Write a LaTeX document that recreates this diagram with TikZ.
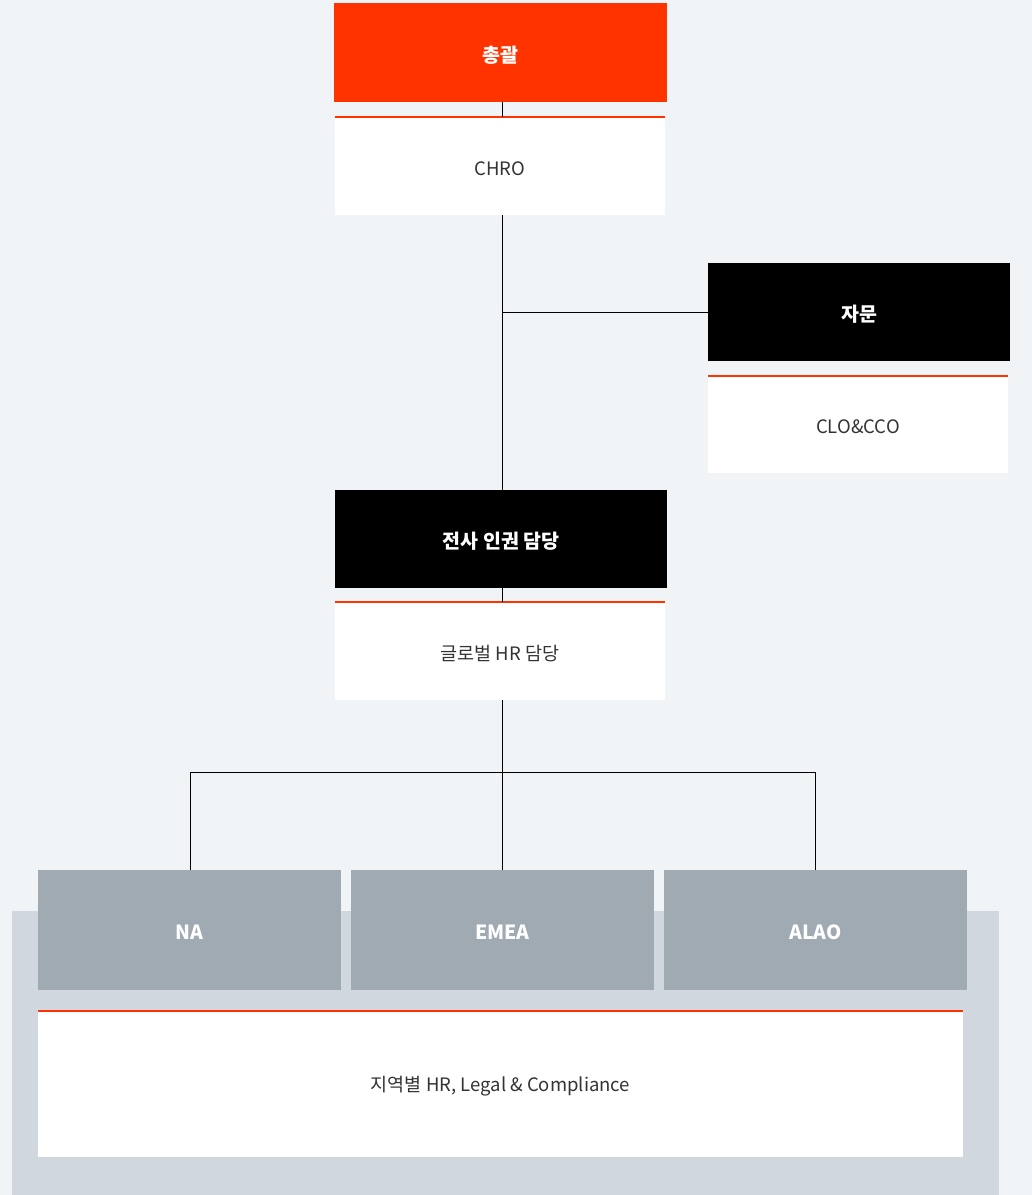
\documentclass[tikz,border=0pt]{standalone}
\usepackage{fontspec}
\setmainfont{Noto Sans CJK KR}
\newcommand\lowtxt[1]{\raisebox{-2.5pt}[\height][\depth]{#1}}
\begin{document}
\begin{tikzpicture}[x=1pt,y=-1pt,
  box/.style={rectangle,inner sep=0pt,outer sep=0pt,anchor=north west},
  topbox/.style={box,text=white,font=\fontsize{19.5}{22}\selectfont\bfseries},
  subbox/.style={box,fill=white,text=txt,font=\fontsize{18.5}{22}\selectfont},
  conn/.style={draw=black,line width=0.8pt},
  redline/.style={draw=accent,line width=1.2pt}]
\definecolor{bg}{HTML}{F0F4F7}
\definecolor{accent}{HTML}{FF3300}
\definecolor{panel}{HTML}{D0D7DF}
\definecolor{region}{HTML}{A0AAB2}
\definecolor{txt}{HTML}{333333}
\fill[bg] (0,0) rectangle (1032,1195);
\useasboundingbox (0,0) rectangle (1032,1195);
% lower panel
\fill[panel] (12,911) rectangle (999,1195);
% connectors
\coordinate (j1) at (502,312);
\coordinate (j2) at (502,772);
\coordinate (jl) at (190,772);
\coordinate (jr) at (815,772);
% nodes
\node[topbox,fill=accent,minimum width=333pt,minimum height=99pt] (top) at (334,3) {\lowtxt{총괄}};
\node[subbox,minimum width=330pt,minimum height=98pt] (chro) at (335,117) {\lowtxt{CHRO}};
\node[topbox,fill=black,minimum width=302pt,minimum height=98pt] (adv) at (708,263) {\lowtxt{자문}};
\node[subbox,minimum width=300pt,minimum height=97pt] (clo) at (708,376) {\lowtxt{CLO\&CCO}};
\node[topbox,fill=black,minimum width=332pt,minimum height=98pt] (hr) at (335,490) {\lowtxt{전사 인권 담당}};
\node[subbox,minimum width=330pt,minimum height=98pt] (ghr) at (335,602) {\lowtxt{글로벌 HR 담당}};
\node[topbox,fill=region,minimum width=303pt,minimum height=120pt] (na) at (38,870) {\lowtxt{NA}};
\node[topbox,fill=region,minimum width=303pt,minimum height=120pt] (emea) at (351,870) {\lowtxt{EMEA}};
\node[topbox,fill=region,minimum width=303pt,minimum height=120pt] (alao) at (664,870) {\lowtxt{ALAO}};
\node[subbox,minimum width=925pt,minimum height=146pt] (loc) at (38,1011) {\lowtxt{지역별 HR, Legal \& Compliance}};
% red top lines
\draw[redline] (chro.north west) -- (chro.north east);
\draw[redline] (clo.north west) -- (clo.north east);
\draw[redline] (ghr.north west) -- (ghr.north east);
\draw[redline] (loc.north west) -- (loc.north east);
% connectors
\draw[conn] (top.south -| j1) -- (chro.north -| j1);
\draw[conn] (chro.south -| j1) -- (hr.north -| j1);
\draw[conn] (j1) -- (adv.west |- j1);
\draw[conn] (hr.south -| j1) -- (ghr.north -| j1);
\draw[conn] (ghr.south -| j2) -- (emea.north -| j2);
\draw[conn] (jl) -- (jr);
\draw[conn] (jl) -- (na.north -| jl);
\draw[conn] (jr) -- (alao.north -| jr);
\end{tikzpicture}
\end{document}
